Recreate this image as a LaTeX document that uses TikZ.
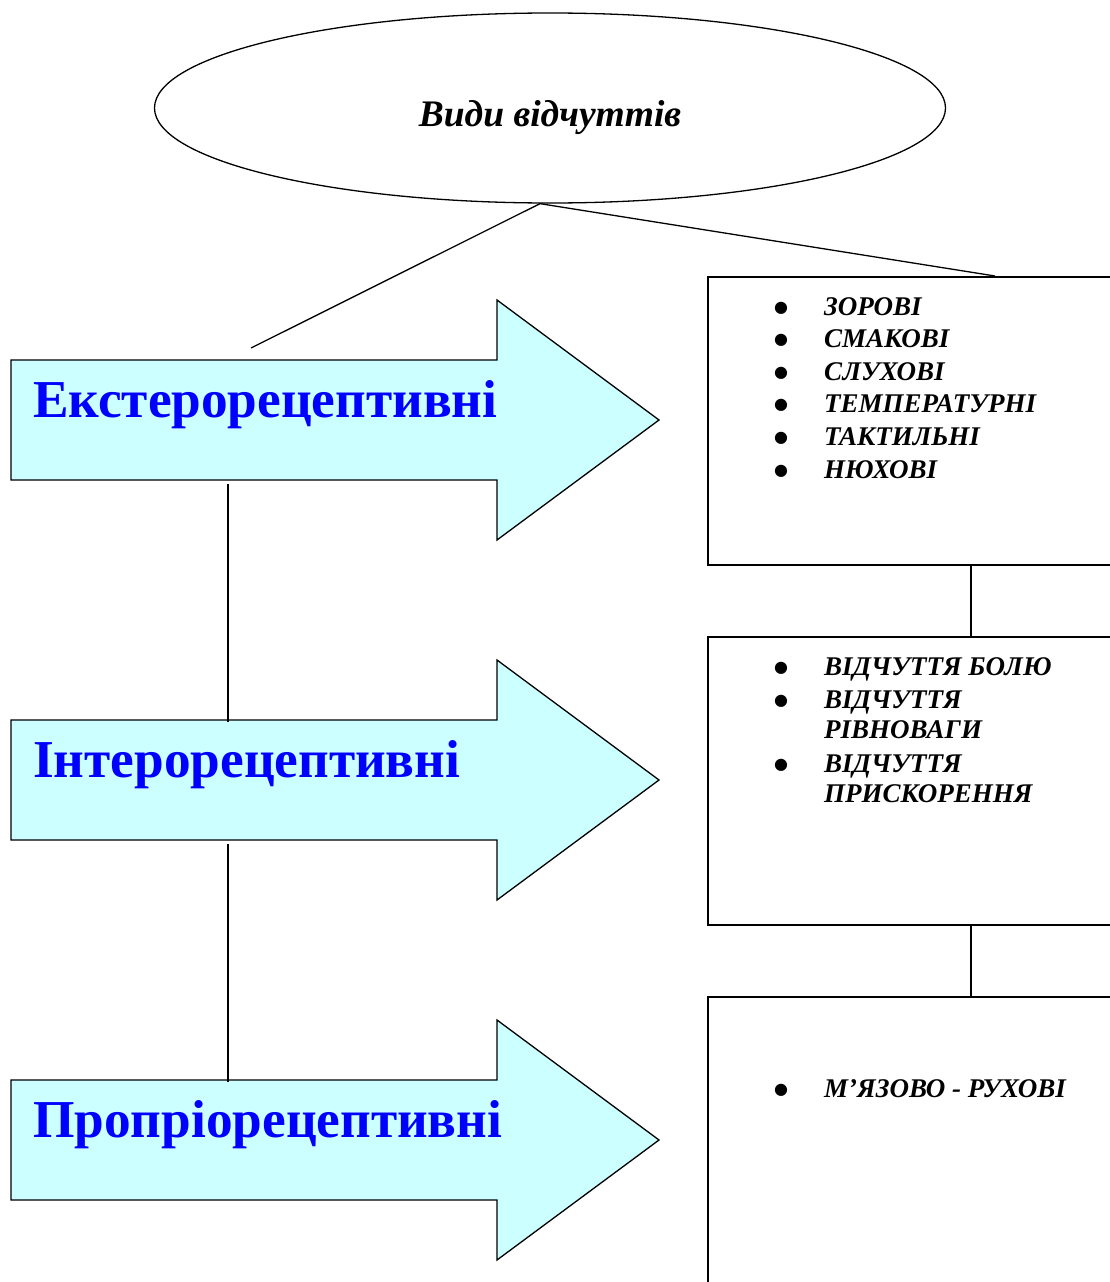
\documentclass[tikz,border=0pt]{standalone}
\usepackage{fontspec}
\setmainfont{Liberation Serif}
\newfontfamily\dotfont{DejaVu Sans}
\usetikzlibrary{shapes.geometric}

\definecolor{arrowfill}{HTML}{CCFFFF}
\newcommand{\bul}{\makebox[50pt][l]{\raisebox{3pt}{\fontsize{16}{16}\dotfont ●}}}
\newcommand{\cont}{\hspace*{50pt}}

\begin{document}
\begin{tikzpicture}[x=1pt, y=-1pt,
    sensearrow/.style={draw, fill=arrowfill, line width=1.3pt},
    kindlabel/.style={anchor=base west, inner sep=0pt, text=blue,
      font=\fontsize{53.3}{60}\selectfont\bfseries},
    listbox/.style={draw, line width=1.8pt, minimum width=420, minimum height=288},
    listtext/.style={anchor=north west, inner sep=0pt, align=left,
      font=\fontsize{27}{32.6}\selectfont\bfseries\itshape},
    link/.style={line width=1.3pt}]
  \useasboundingbox (0,0) rectangle (1110,1282);
  \clip (0,0) rectangle (1110,1282);

  % top
  \node [draw, ellipse, line width=1.3pt, minimum width=791, minimum height=190] (root) at (550,108) {};
  \node [anchor=base, inner sep=0pt, font=\fontsize{37.5}{40}\selectfont\bfseries\itshape] (roottitle) at (550,126) {Види відчуттів};

  % three kinds
  \foreach \y/\nm/\txt in {0/exter/Екстерорецептивні, 360/inter/Інтерорецептивні, 720/propr/Пропріорецептивні} {
    \begin{scope}[shift={(0,\y)}]
      \draw [sensearrow] (11,360) -- (497,360) -- (497,300) -- (659,420) -- (497,540) -- (497,480) -- (11,480) -- cycle;
      \node [kindlabel] (\nm) at (33,417) {\txt};
      \node [listbox, anchor=north west] (\nm-box) at (707,276) {};
      \coordinate (\nm-in) at (228,362);
      \coordinate (\nm-out) at (228,484);
    \end{scope}
  }

  \node [listtext] (exterlist) at (774,297) {\bul ЗОРОВІ\\ \bul СМАКОВІ\\ \bul СЛУХОВІ\\
    \bul ТЕМПЕРАТУРНІ\\ \bul ТАКТИЛЬНІ\\ \bul НЮХОВІ};
  \node [listtext] (interlist) at (774,657) {\bul ВІДЧУТТЯ БОЛЮ\\[1pt] \bul ВІДЧУТТЯ\\[-2.5pt]
    \cont РІВНОВАГИ\\[1pt] \bul ВІДЧУТТЯ\\[-2.5pt] \cont ПРИСКОРЕННЯ};
  \node [listtext] (proprlist) at (774,1079) {\bul М’ЯЗОВО - РУХОВІ};

  % connectors
  \coordinate (rootfoot) at ([xshift=-10pt]root.south);
  \coordinate (rootleft) at (251,348);
  \coordinate (rootright) at (995,276);
  \coordinate (rightspine) at (971,0);
  \draw [link] (rootleft) -- (rootfoot) -- (rootright);
  \draw [link] (exter-out) -- (inter-in);
  \draw [link] (inter-out) -- (propr-in);
  \draw [link] (rightspine |- exter-box.south) -- (rightspine |- inter-box.north);
  \draw [link] (rightspine |- inter-box.south) -- (rightspine |- propr-box.north);
\end{tikzpicture}
\end{document}
